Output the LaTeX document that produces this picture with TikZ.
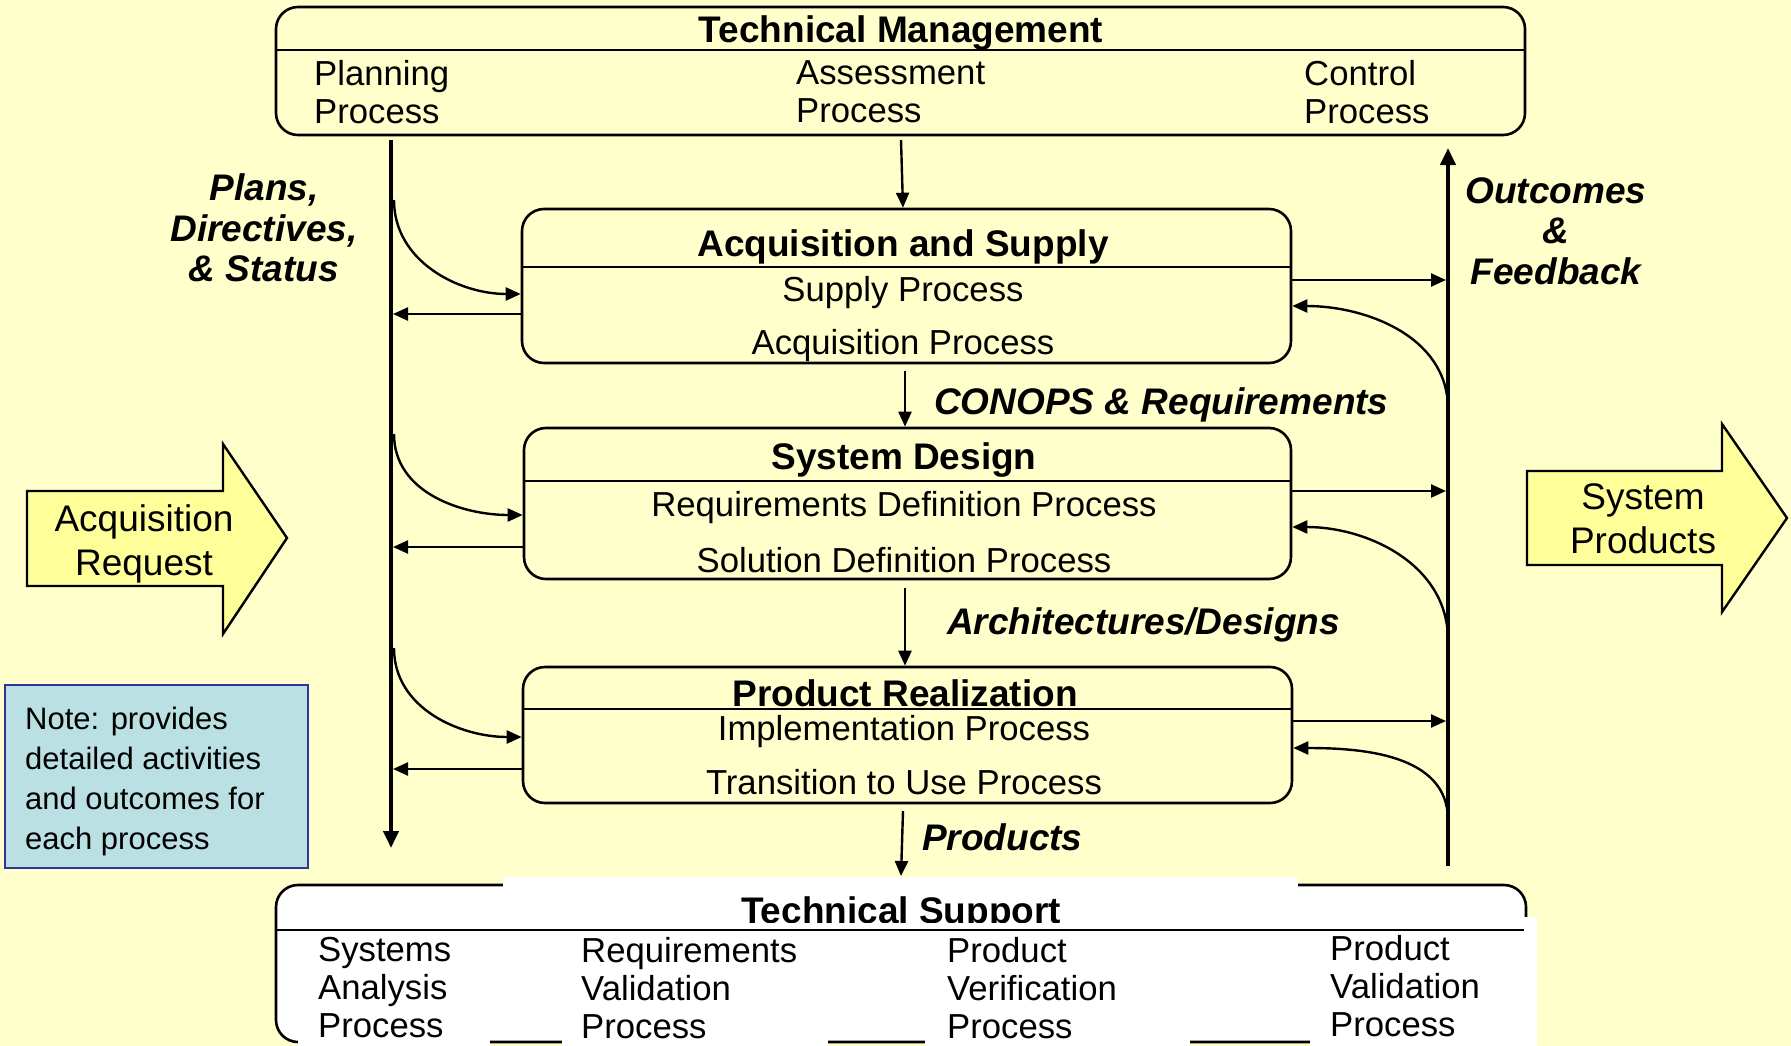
\documentclass[tikz,border=0pt]{standalone}
\usepackage{fontspec}
\setmainfont{Liberation Sans}
\usetikzlibrary{arrows.meta}
\definecolor{bg}{HTML}{FFFFCC}
\definecolor{arrfill}{HTML}{FFFF99}
\definecolor{notefill}{HTML}{BBE0E3}
\definecolor{noteborder}{HTML}{333399}
\begin{document}
\begin{tikzpicture}[x=1pt,y=-1pt,
  pbox/.style={draw, line width=2.6pt, rounded corners=22pt, fill=bg, inner sep=0pt},
  hline/.style={line width=2.4pt},
  conn/.style={line width=2.4pt, -{Triangle[length=15pt,width=13pt]}},
  bus/.style={line width=4pt, -{Triangle[length=17pt,width=15pt]}},
  reg/.style={font=\fontsize{34.7}{38}\selectfont, inner sep=0pt},
  ttl/.style={font=\bfseries\fontsize{37}{40}\selectfont, inner sep=0pt},
  lab/.style={font=\bfseries\itshape\fontsize{37}{40.5}\selectfont, inner sep=0pt, align=center},
  bigarrow/.style={draw, line width=2.4pt, fill=arrfill, line join=miter},
  big/.style={font=\fontsize{37}{44}\selectfont, inner sep=0pt, align=center}
]
\fill[bg] (0,0) rectangle (1791,1046);
\useasboundingbox (0,0) rectangle (1791,1046);

% ---------------- Technical Management
\node[pbox, minimum width=1249pt, minimum height=128pt] (tm) at (900.5,71) {};
\draw[hline] (tm.west |- 0,50) -- (tm.east |- 0,50);
\node[ttl] (tmt) at (901,33.5) {Technical Management};
\node[reg, anchor=west, align=left] (tmp) at (314,92) {Planning\\Process};
\node[reg, anchor=west, align=left] (tma) at (796,92) {Assessment\\Process};
\node[reg, anchor=west, align=left] (tmc) at (1304,92) {Control\\Process};

% ---------------- Acquisition and Supply
\node[pbox, minimum width=769pt, minimum height=154pt] (as) at (906.5,286) {};
\draw[hline] (as.west |- 0,267) -- (as.east |- 0,267);
\node[ttl] (ast) at (903,246.5) {Acquisition and Supply};
\node[reg] (as1) at (903,292.5) {Supply Process};
\node[reg] (as2) at (903,345.5) {Acquisition Process};

% ---------------- System Design
\node[pbox, minimum width=767pt, minimum height=151pt] (sd) at (907.5,503.5) {};
\draw[hline] (sd.west |- 0,481) -- (sd.east |- 0,481);
\node[ttl] (sdt) at (904,460.5) {System Design};
\node[reg] (sd1) at (904,507.5) {Requirements Definition Process};
\node[reg] (sd2) at (904,560) {Solution Definition Process};

% ---------------- Product Realization
\node[pbox, minimum width=769pt, minimum height=136pt] (pr) at (907.5,735) {};
\draw[hline] (pr.west |- 0,709) -- (pr.east |- 0,709);
\node[ttl] (prt) at (905,693) {Product Realization};
\node[reg] (pr1) at (904,731.5) {Implementation Process};
\node[reg] (pr2) at (904,782) {Transition to Use Process};

% ---------------- Technical Support
\node[pbox, fill=white, minimum width=1250pt, minimum height=157pt] (ts) at (901,963.5) {};
\fill[white] (503,877) rectangle (1298,922);
\begin{scope}
  \clip (0,0) rectangle (1791,922);
  \node[ttl] (tst) at (901,914) {Technical Support};
\end{scope}
\fill[white] (298,1035) rectangle (490,1046);
\fill[white] (562,1035) rectangle (828,1046);
\fill[white] (925,1035) rectangle (1190,1046);
\fill[white] (1310,917) rectangle (1537,1046);
\draw[hline] (ts.west |- 0,930) -- (1524,930);
\node[reg, anchor=west, align=left] (ts1) at (318,988) {Systems\\Analysis\\Process};
\node[reg, anchor=west, align=left] (ts2) at (581,988) {Requirements\\Validation\\Process};
\node[reg, anchor=west, align=left] (ts3) at (947,988) {Product\\Verification\\Process};
\node[reg, anchor=west, align=left] (ts4) at (1330,986) {Product\\Validation\\Process};

% ---------------- Buses
\coordinate (lbtop) at (391,140);
\coordinate (lbbot) at (391,848);
\draw[bus] (lbtop) -- (lbbot);
\coordinate (rbbot) at (1448,866);
\coordinate (rbtop) at (1448,148);
\draw[bus] (rbbot) -- (rbtop);

% left side connectors
\coordinate (l1) at (394,200);
\coordinate (l2) at (394,434);
\coordinate (l3) at (394,648);
\draw[conn] (l1) to[out=-90,in=180] (as.west |- 0,294);
\draw[conn] (l2) to[out=-90,in=180] (sd.west |- 0,515);
\draw[conn] (l3) to[out=-90,in=180] (pr.west |- 0,737);
\coordinate (lb1) at (393,314);
\coordinate (lb2) at (393,547);
\coordinate (lb3) at (393,769);
\draw[conn] (as.west |- lb1) -- (lb1);
\draw[conn] (sd.west |- lb2) -- (lb2);
\draw[conn] (pr.west |- lb3) -- (lb3);

% right side connectors
\coordinate (rb1) at (1446,280);
\coordinate (rb2) at (1446,491);
\coordinate (rb3) at (1446,721);
\draw[conn] (as.east |- rb1) -- (rb1);
\draw[conn] (sd.east |- rb2) -- (rb2);
\draw[conn] (pr.east |- rb3) -- (rb3);
\coordinate (r1) at (1448,409);
\coordinate (r2) at (1448,640);
\coordinate (r3) at (1448,820);
\draw[conn] (r1) to[out=90,in=0] (as.east |- 0,306);
\draw[conn] (r2) to[out=90,in=0] (sd.east |- 0,527);
\draw[conn] (r3) to[out=90,in=0] (pr.east |- 0,748);

% vertical flow arrows
\coordinate (d0) at (901,140);
\draw[conn] (d0) -- (as.north -| 903,0);
\draw[conn] (905,371) coordinate (d1) -- (sd.north -| 905,0);
\draw[conn] (905,588) coordinate (d2) -- (pr.north -| 905,0);
\coordinate (d3) at (903,811);
\coordinate (d3e) at (901,876);
\draw[conn] (d3) -- (d3e);

% labels
\node[lab] (plans) at (264,228) {Plans,\\Directives,\\\& Status};
\node[lab] (outc) at (1556,231) {Outcomes\\\&\\Feedback};
\node[lab, anchor=west] (conops) at (934,405) {CONOPS \& Requirements};
\node[lab, anchor=west] (arch) at (947,624.5) {Architectures/Designs};
\node[lab, anchor=west] (prod) at (922,837) {Products};

% big arrows
\draw[bigarrow] (27,491) -- (223,491) -- (223,444) -- (287,538) -- (223,634) -- (223,586) -- (27,586) -- cycle;
\node[big] (acq) at (144,543.5) {Acquisition\\Request};
\draw[bigarrow] (1527,471) -- (1722,471) -- (1722,424) -- (1787,518) -- (1722,612) -- (1722,565) -- (1527,565) -- cycle;
\node[big] (sysp) at (1643,519) {System\\Products};

% note
\node[draw=noteborder, fill=notefill, line width=2.4pt, minimum width=303pt, minimum height=183pt, inner sep=0pt] (note) at (156.5,776.5) {};
\node[font=\fontsize{31}{40}\selectfont, inner sep=0pt, align=left, anchor=west] (notet) at (25,781.5) {Note: provides\\detailed activities\\and outcomes for\\each process};
\end{tikzpicture}
\end{document}
